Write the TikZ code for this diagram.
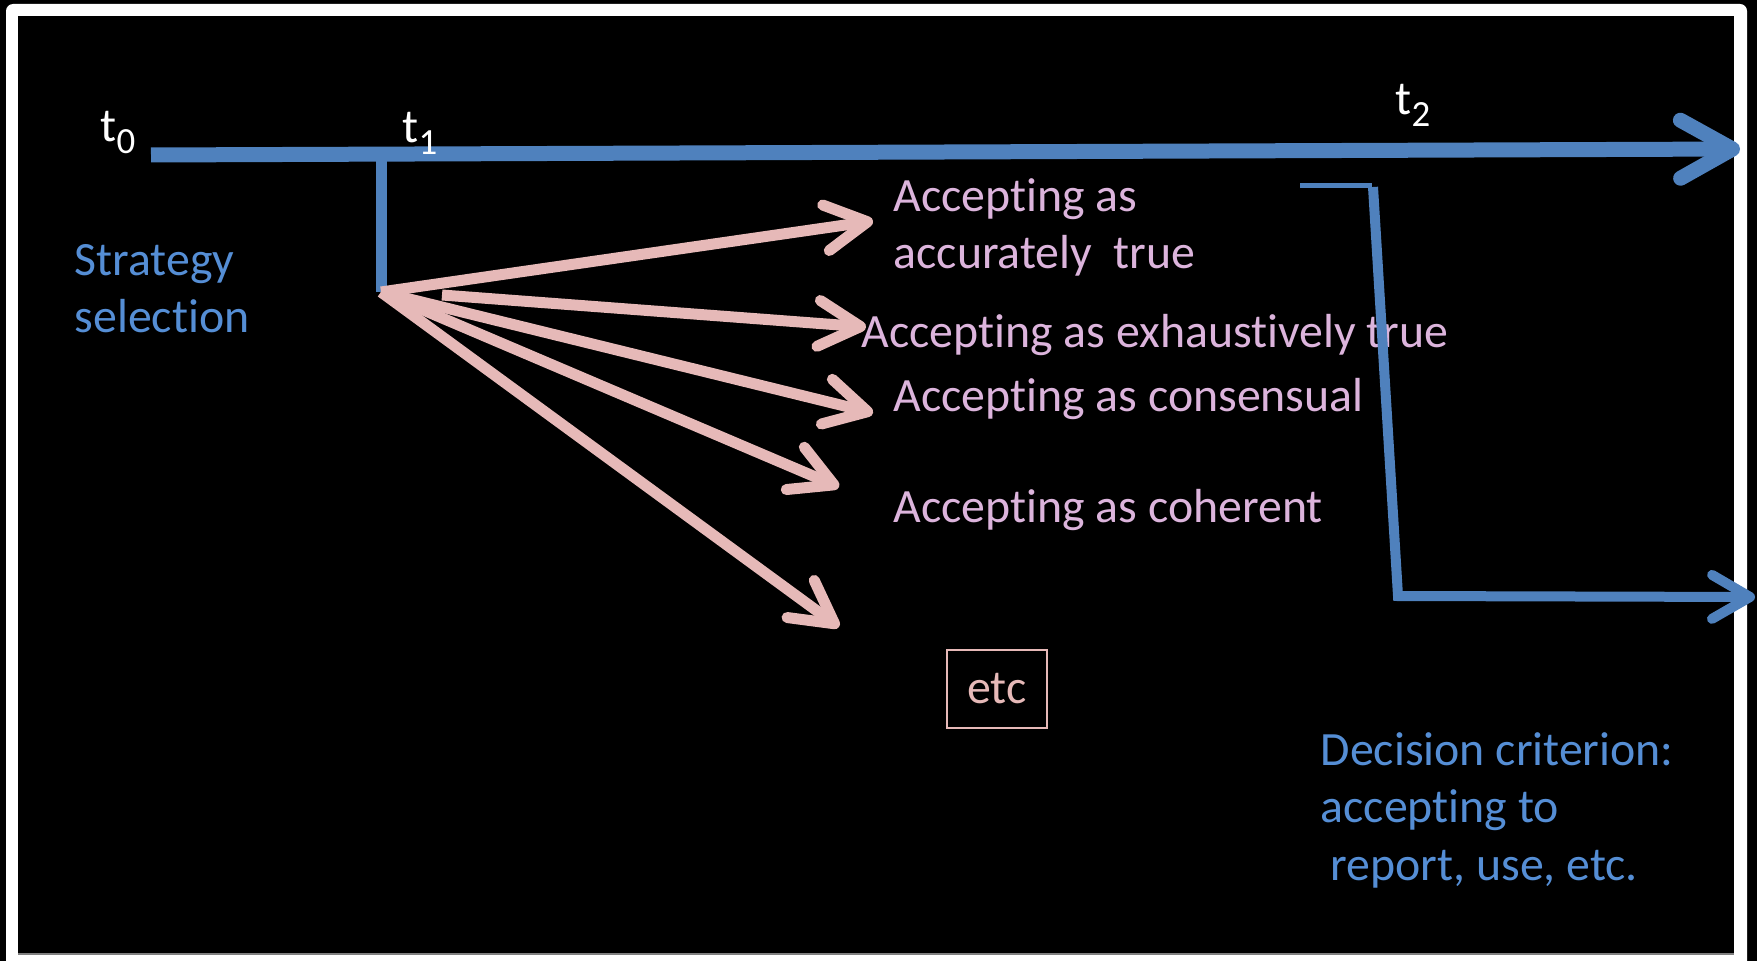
\documentclass[tikz,border=0pt]{standalone}
\usepackage{fontspec}
\setmainfont{Carlito}[Ligatures=NoCommon]
\usetikzlibrary{arrows.meta}

\definecolor{lineblue}{HTML}{4F81BD}
\definecolor{textblue}{HTML}{558ED5}
\definecolor{arrowpink}{HTML}{E6B9B8}
\definecolor{optionlav}{HTML}{DCB4DC}

\newcommand{\tsub}[1]{\raisebox{-3.4pt}{\fontsize{10.5}{12}\selectfont #1}}

\begin{document}
\begin{tikzpicture}[x=0.1mm,y=-0.1mm,
  every node/.style={inner sep=0pt,anchor=base west,font=\fontsize{13.6}{16}\selectfont},
  option/.style={text=optionlav},
  stage/.style={text=textblue},
  timelabel/.style={text=white},
  pinkarrow/.style={arrowpink,line width=1.1mm,-{Straight Barb[length=4.2mm,width=4.6mm,round]}},
  bluearrow/.style={lineblue,line width=1.5mm,-{Straight Barb[length=5.2mm,width=5.8mm,round]}}]
\useasboundingbox (0,0) rectangle (1757,961);
% slide frame
\fill[black] (0,0) rectangle (1757,961);
\fill[white,rounded corners=2pt] (6,4) rectangle (1747,1000);
\fill[black] (18,16) rectangle (1734,954);
\draw[gray,line width=0.2mm] (18,954) -- (1734,954);

% time axis
\coordinate (axisstart) at (151,155);
\coordinate (axisend) at (1740,149);
\draw[bluearrow] (axisstart) -- (axisend);
\coordinate (t1top) at (381,148);
\coordinate (hub) at (381,292);
\draw[lineblue,line width=1.1mm] (t1top) -- (hub);

\node[timelabel] (t0) at (100,142) {t\tsub{0}};
\node[timelabel] (t1) at (402,143) {t\tsub{1}};
\node[timelabel] (t2) at (1395,115) {t\tsub{2}};

% strategies
\coordinate (tipa) at (873,221);
\coordinate (startb) at (442,295);
\coordinate (tipb) at (866,327);
\coordinate (tipc) at (873,413);
\coordinate (tipd) at (839,487);
\coordinate (tipe) at (839,627);
\foreach \tip in {tipa,tipc,tipd,tipe}
  \draw[pinkarrow] (hub) -- (\tip);
\draw[pinkarrow] (startb) -- (tipb);

\node[option] (accurate1) at (893,212) {Accepting as};
\node[option] (accurate2) at (893,269) {accurately~ true};
\node[option] (exhaustive) at (861,347) {Accepting as exhaustively true};
\node[option] (consensual) at (893,412) {Accepting as consensual};
\node[option] (coherent) at (893,522) {Accepting as coherent};
\node[anchor=center,draw=arrowpink,line width=0.25mm,text=arrowpink,
  minimum width=10mm,minimum height=7.8mm] (etcbox) at (997,689) {etc};

\node[stage] (strategy1) at (74,276) {Strategy};
\node[stage] (strategy2) at (74,333) {selection};

% decision
\coordinate (d1) at (1300,186);
\coordinate (d2) at (1372,186);
\coordinate (d3) at (1373,187);
\coordinate (d4) at (1398,596);
\coordinate (d5) at (1755,597);
\draw[lineblue,line width=0.5mm] (d1) -- (d2);
\draw[lineblue,line width=1.0mm,-{Straight Barb[length=3.8mm,width=4.4mm,round]}] (d3) -- (d4) -- (d5);

\node[stage] (decision1) at (1320,765) {Decision criterion:};
\node[stage] (decision2) at (1320,822) {accepting to};
\node[stage] (decision3) at (1330,880) {report, use, etc.};
\end{tikzpicture}
\end{document}
